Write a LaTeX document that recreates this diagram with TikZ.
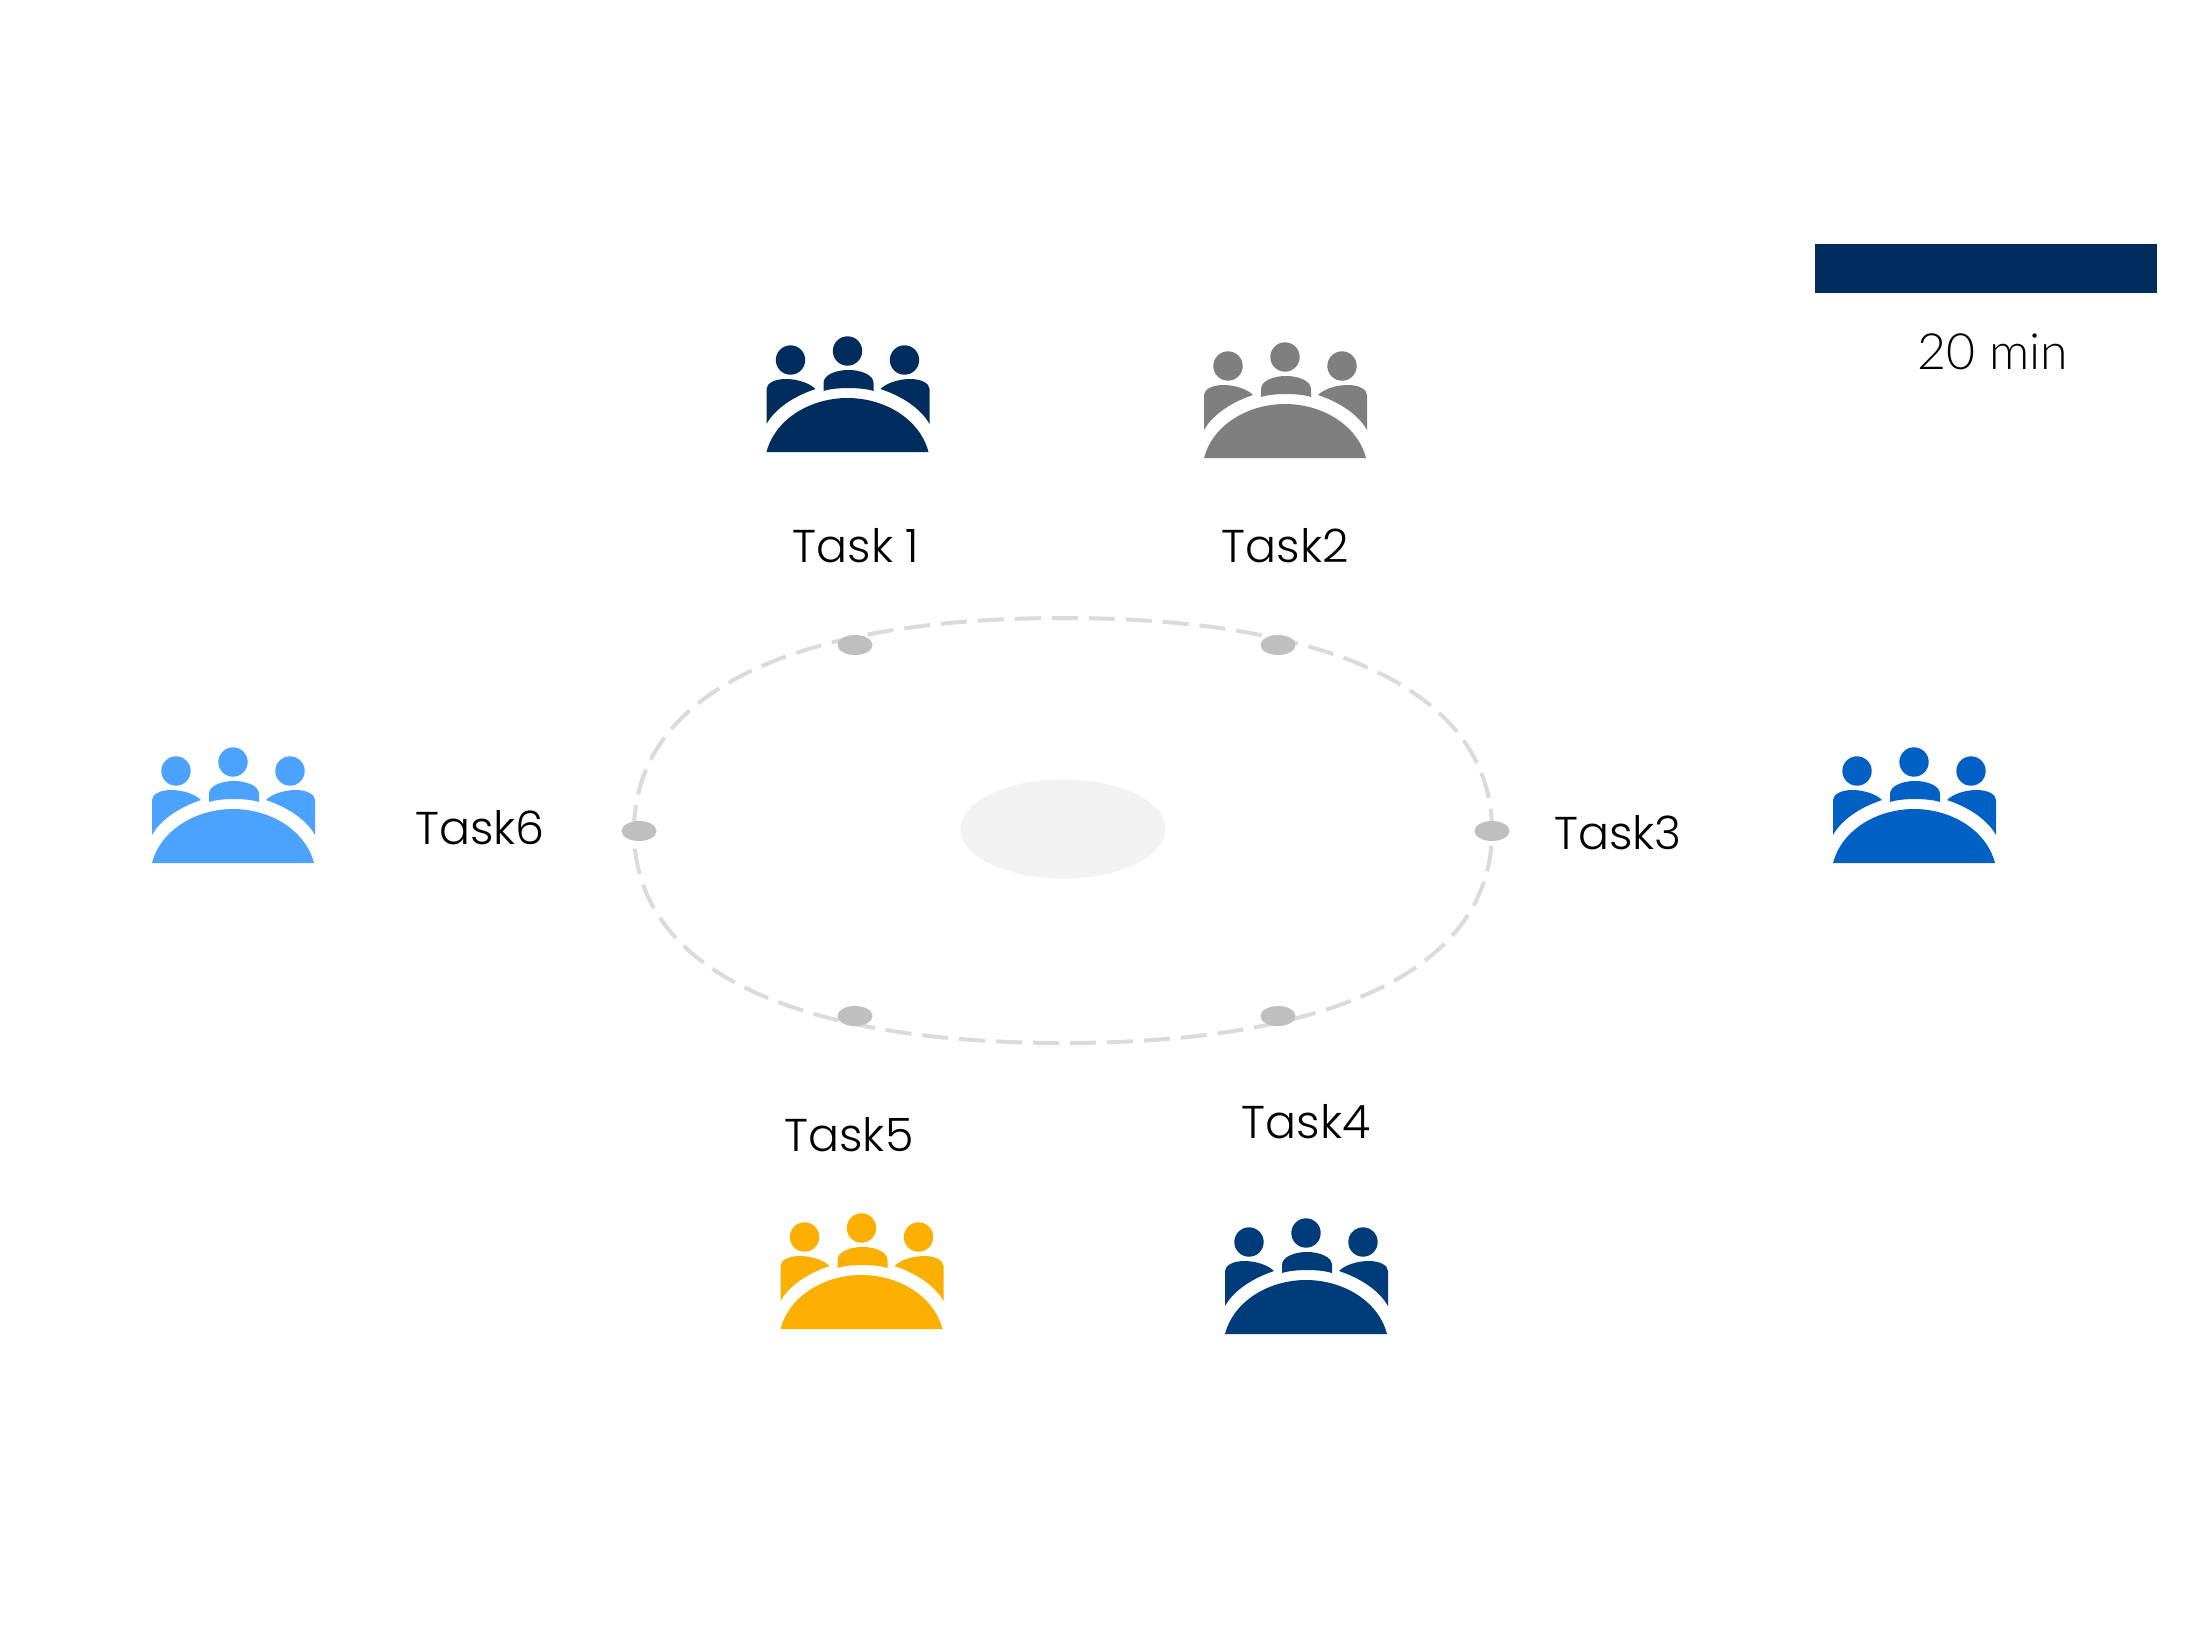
\documentclass[tikz,border=0pt]{standalone}
\usepackage{fontspec}
\setmainfont{Poppins}[UprightFont=* Light]
\newfontfamily\minfont{Lato}[UprightFont=* Light]
\definecolor{navyA}{HTML}{002D5E}
\definecolor{greyA}{HTML}{7F7F7F}
\definecolor{blueA}{HTML}{0060C4}
\definecolor{navyB}{HTML}{003B7A}
\definecolor{goldA}{HTML}{FBB000}
\definecolor{skyA}{HTML}{4BA3FF}
\tikzset{
  x=1pt,y=-1pt,
  tasklabel/.style={font=\fontsize{46}{50}\selectfont,text=black,inner sep=0pt,anchor=center},
  dotnode/.style={ellipse,fill=dotgrey,inner sep=0pt,minimum width=35pt,minimum height=20pt},
  pics/people/.style={code={
    \fill[#1] (-81,0) .. controls (-72,-34) and (-36,-54) .. (0,-54) .. controls (36,-54) and (72,-34) .. (81,0) -- cycle;
    \fill[#1] (0,-101) circle[radius=14.7];
    \fill[#1] (-57,-92) circle[radius=14.7];
    \fill[#1] (57,-92) circle[radius=14.7];
    \fill[#1] (-24,-61) -- (-24,-69) .. controls (-24,-77) and (-12,-82) .. (1,-82) .. controls (14,-82) and (26,-77) .. (26,-69) -- (26,-61) .. controls (14,-65) and (-12,-65) .. cycle;
    \fill[#1] (-81,-28) -- (-81,-63) .. controls (-81,-69) and (-72,-73) .. (-62,-73) .. controls (-50,-73) and (-38,-69) .. (-32,-63) .. controls (-53,-56) and (-72,-44) .. cycle;
    \fill[#1] (82,-28) -- (82,-63) .. controls (82,-69) and (73,-73) .. (63,-73) .. controls (51,-73) and (39,-69) .. (33,-63) .. controls (54,-56) and (73,-44) .. cycle;
  }}
}
\definecolor{dotgrey}{HTML}{BFBFBF}
\usetikzlibrary{shapes.geometric}
\begin{document}
\begin{tikzpicture}
\useasboundingbox (0,0) rectangle (2200,1650);
\fill[white] (0,0) rectangle (2200,1650);
% dashed ring
\draw[draw=black!14,line width=4pt,dash pattern=on 26pt off 11pt]
  (634,831) .. controls (634,695) and (789,618) .. (1063,618)
  .. controls (1337,618) and (1492,695) .. (1492,831)
  .. controls (1492,967) and (1337,1043) .. (1063,1043)
  .. controls (789,1043) and (634,967) .. (634,831);
\node[ellipse,fill=black!5,inner sep=0pt,minimum width=205pt,minimum height=99pt] (hub) at (1063,829) {};
\node[dotnode] (d1) at (855,645) {};
\node[dotnode] (d2) at (1278,645) {};
\node[dotnode] (d3) at (1492,831) {};
\node[dotnode] (d4) at (1278,1016) {};
\node[dotnode] (d5) at (855,1016) {};
\node[dotnode] (d6) at (639,831) {};
% icons
\pic at (847.5,452) {people=navyA};
\pic at (1285,458) {people=greyA};
\pic at (1914,863) {people=blueA};
\pic at (1306,1334) {people=navyB};
\pic at (861.5,1329) {people=goldA};
\pic at (233,863) {people=skyA};
% labels
\node[tasklabel] (t1) at (856,546) {Task 1};
\node[tasklabel] (t2) at (1285,546) {Task2};
\node[tasklabel] (t3) at (1618,833) {Task3};
\node[tasklabel] (t4) at (1306,1122) {Task4};
\node[tasklabel] (t5) at (849,1135) {Task5};
\node[tasklabel] (t6) at (480,828) {Task6};
% legend
\node[fill=navyA,inner sep=0pt,minimum width=342pt,minimum height=49pt] (bar) at (1986,268) {};
\node[font=\minfont\fontsize{50}{54}\selectfont,inner sep=0pt] (lg) at (1993,352) {20 min};
\end{tikzpicture}
\end{document}
